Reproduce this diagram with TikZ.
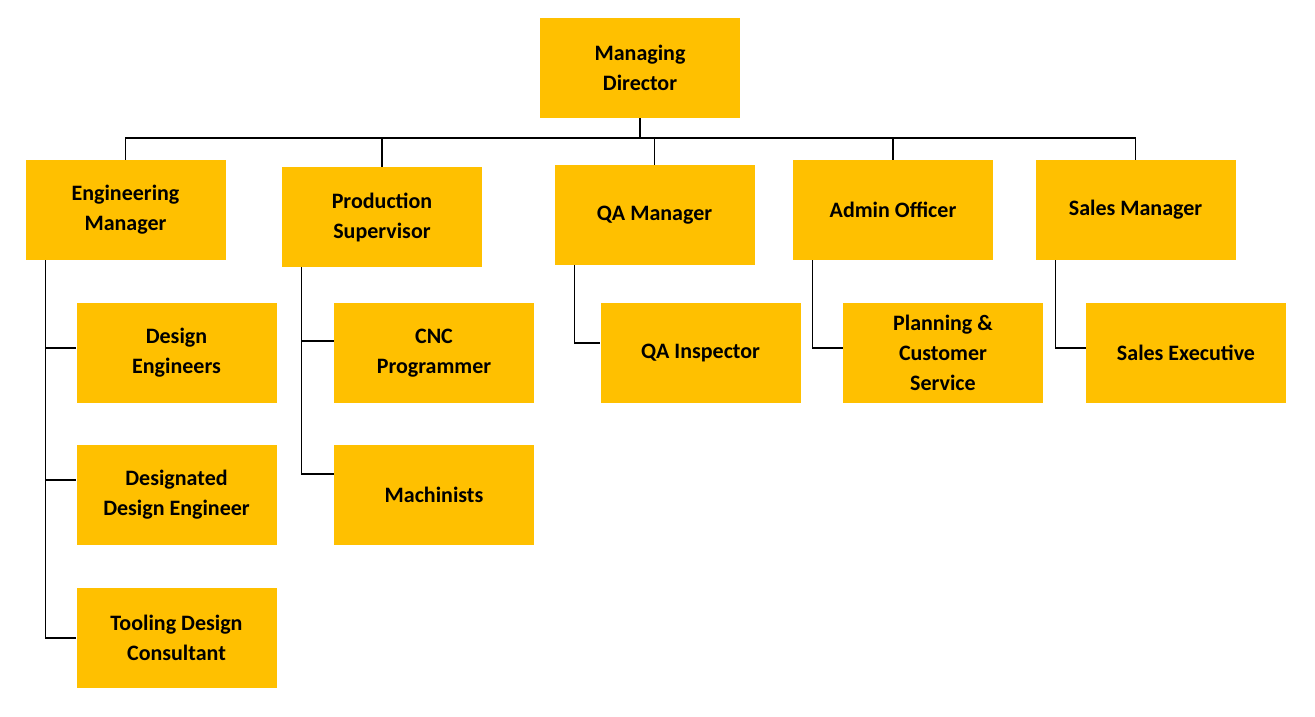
\documentclass[tikz,border=0pt]{standalone}
\usepackage{fontspec}
\setmainfont{Carlito}
\definecolor{gold}{HTML}{FFC000}
\begin{document}
\begin{tikzpicture}[x=1pt,y=-1pt,
  box/.style={fill=gold,minimum width=200pt,minimum height=100pt,align=center,font=\fontsize{22}{30}\selectfont\bfseries,inner sep=0pt},
  ln/.style={line width=1.2pt}]
\useasboundingbox (0,0) rectangle (1315,716);
\newcommand{\bx}[6]{\node[box] (#1) at ({(#2+#4)/2},{(#3+#5)/2}) {#6};}
\bx{md}{540}{18}{740}{118}{Managing\\Director}
\bx{em}{25}{160}{226}{260}{Engineering\\Manager}
\bx{ps}{282}{167}{482}{267}{Production\\Supervisor}
\bx{qa}{554}{165}{755}{265}{QA Manager}
\bx{ao}{793}{160}{993}{260}{Admin Officer}
\bx{sm}{1035}{160}{1236}{260}{Sales Manager}
\bx{de}{76}{303}{277}{403}{Design\\Engineers}
\bx{dde}{76}{445}{277}{545}{Designated\\Design Engineer}
\bx{tdc}{76}{588}{277}{688}{Tooling Design\\Consultant}
\bx{cnc}{334}{303}{534}{403}{CNC\\Programmer}
\bx{mach}{334}{445}{534}{545}{Machinists}
\bx{qai}{600}{303}{801}{403}{QA Inspector}
\bx{pcs}{843}{303}{1043}{403}{Planning \&\\Customer\\Service}
\bx{se}{1086}{303}{1286}{403}{Sales Executive}
\coordinate (bus) at (640,138);
\draw[ln] (md.south) -- (bus);
\foreach \n in {em,ps,qa,ao,sm}{\draw[ln] (\n.north) |- (bus);}
\draw[ln] ([xshift=20pt]em.south west) |- (tdc.west);
\draw[ln] ([xshift=20pt]em.south west) |- ([yshift=5pt]de.west);
\draw[ln] ([xshift=20pt]em.south west) |- ([yshift=15pt]dde.west);
\draw[ln] ([xshift=20pt]ps.south west) |- ([yshift=12pt]cnc.west);
\draw[ln] ([xshift=20pt]ps.south west) |- ([yshift=21pt]mach.west);
\draw[ln] ([xshift=20pt]qa.south west) |- ([yshift=10pt]qai.west);
\draw[ln] ([xshift=20pt]ao.south west) |- ([yshift=5pt]pcs.west);
\draw[ln] ([xshift=20pt]sm.south west) |- ([yshift=5pt]se.west);
\end{tikzpicture}
\end{document}
